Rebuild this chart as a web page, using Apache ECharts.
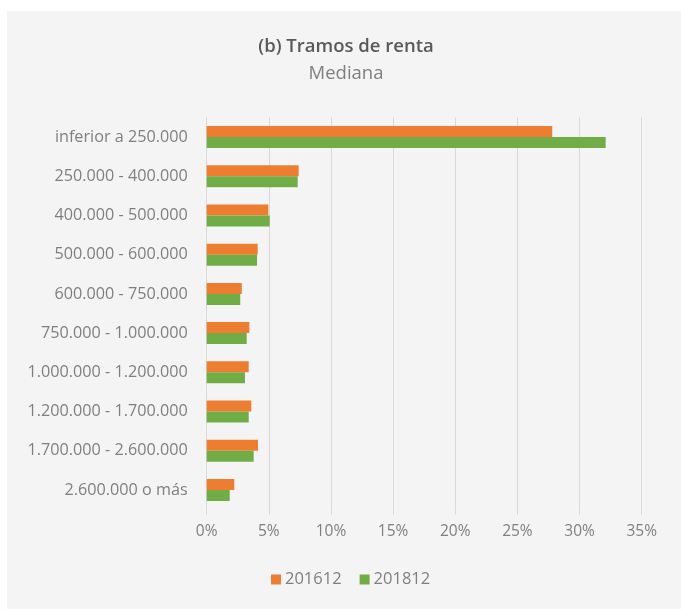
<!DOCTYPE html>
<html>
<head>
<meta charset="utf-8">
<script src="https://cdn.jsdelivr.net/npm/echarts@6/dist/echarts.min.js"></script>
<style>
html,body{margin:0;padding:0;background:#ffffff;}
#chart{width:681px;height:609px;}
</style>
</head>
<body>
<div id="chart"></div>
<script>
const categories = ["inferior a 250.000","250.000 - 400.000","400.000 - 500.000","500.000 - 600.000","600.000 - 750.000","750.000 - 1.000.000","1.000.000 - 1.200.000","1.200.000 - 1.700.000","1.700.000 - 2.600.000","2.600.000 o más"];
const seriesNames = ["201612","201812"];
const values201612 = [27.8, 7.4, 4.96, 4.10, 2.82, 3.43, 3.38, 3.59, 4.13, 2.22];
const values201812 = [32.1, 7.32, 5.07, 4.05, 2.70, 3.22, 3.08, 3.38, 3.78, 1.85];
const titleText = "(b) Tramos de renta";
const subtitleText = "Mediana";

const chart = echarts.init(document.getElementById('chart'), null, {renderer:'canvas'});
const font = "'Open Sans', sans-serif";
chart.setOption({
  backgroundColor: '#ffffff',
  animation: false,
  graphic: [{
    type: 'rect', z: -10, silent: true,
    shape: {x: 7, y: 11, width: 674, height: 598},
    style: {fill: '#F4F4F4'}
  }],
  title: {
    text: titleText,
    subtext: subtitleText,
    left: 346,
    textAlign: 'center',
    top: 37,
    padding: 0,
    itemGap: 8,
    textStyle: {fontFamily: font, fontSize: 18.5, fontWeight: 600, color: '#595959'},
    subtextStyle: {fontFamily: font, fontSize: 18.5, color: '#7F7F7F'}
  },
  legend: {
    bottom: 16,
    left: 266,
    itemWidth: 10,
    itemHeight: 10,
    itemGap: 18,
    icon: 'rect',
    textStyle: {fontFamily: font, fontSize: 16.5, color: '#7F7F7F', padding: [0,0,0,-1]},
    data: seriesNames
  },
  grid: {left: 206.7, right: 39.3, top: 117.4, bottom: 99.4, containLabel: false},
  xAxis: {
    type: 'value',
    min: 0, max: 35, interval: 5,
    axisLine: {show: false},
    axisTick: {show: true, length: 5, lineStyle: {color: '#D9D9D9'}},
    splitLine: {show: true, lineStyle: {color: '#D9D9D9', width: 1}},
    axisLabel: {formatter: '{value}%', fontFamily: font, fontSize: 15.5, color: '#7F7F7F', margin: 14}
  },
  yAxis: {
    type: 'category',
    inverse: true,
    data: categories,
    axisLine: {show: true, lineStyle: {color: '#D9D9D9'}},
    axisTick: {show: false},
    axisLabel: {fontFamily: font, fontSize: 16.2, color: '#7F7F7F', margin: 19}
  },
  series: [
    {name: seriesNames[0], type: 'bar', data: values201612, barWidth: 11, barGap: '0%', itemStyle: {color: '#ED7D31'}},
    {name: seriesNames[1], type: 'bar', data: values201812, barWidth: 11, barGap: '0%', itemStyle: {color: '#70AD47'}}
  ]
});
</script>
</body>
</html>
